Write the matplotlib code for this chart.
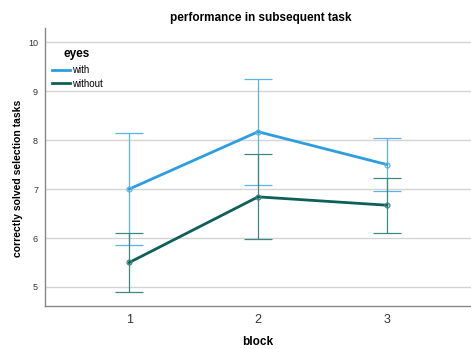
import matplotlib
matplotlib.use("Agg")
import matplotlib.pyplot as plt
from matplotlib.lines import Line2D

plt.rcParams['font.family'] = ['Liberation Sans', 'DejaVu Sans']

blocks = [1, 2, 3]
with_mean = [7.0, 8.17, 7.5]
with_err = [1.15, 1.08, 0.55]
without_mean = [5.5, 6.84, 6.67]
without_err = [0.61, 0.87, 0.56]

series = [
    ("with", with_mean, with_err, "#2b9ee0", "#5cb3e6"),
    ("without", without_mean, without_err, "#0d5f59", "#3f8882"),
]

fig = plt.figure(figsize=(4.71, 3.49), dpi=100)
ax = fig.add_axes([0.0955, 0.123, 0.9035, 0.797])

for y in range(5, 11):
    ax.axhline(y, color="#d4d4d4", lw=1.0, zorder=0)

for name, mean, err, col, ecol in series:
    ax.errorbar(blocks, mean, yerr=err, fmt="none", ecolor=ecol,
                elinewidth=0.9, capsize=10, capthick=0.9, zorder=2)
    ax.plot(blocks, mean, color=col, lw=2.0, marker="o", markersize=3.5,
            markerfacecolor="none", markeredgecolor=ecol, markeredgewidth=0.9,
            zorder=3)

ax.set_xlim(0.345, 3.65)
ax.set_ylim(4.61, 10.29)
ax.set_xticks(blocks)
ax.set_yticks(range(5, 11))
ax.tick_params(axis="x", length=0, labelsize=9, colors="#333333", pad=6)
ax.tick_params(axis="y", length=0, labelsize=6.5, colors="#333333", pad=5)

for s in ["top", "right"]:
    ax.spines[s].set_visible(False)
for s in ["left", "bottom"]:
    ax.spines[s].set_color("#888888")
    ax.spines[s].set_linewidth(1.0)

ax.set_xlabel("block", fontsize=8.5, fontweight="bold", va="center")
ax.xaxis.set_label_coords(0.5, -0.13)
ax.set_ylabel("correctly solved selection tasks", fontsize=7.5, fontweight="bold")
ax.yaxis.set_label_coords(-0.052, 0.46)
fig.text(0.553, 0.948, "performance in subsequent task", ha="center",
         va="center", fontsize=8.5, fontweight="bold")

# legend title placed by hand, entries below it
fig.text(64 / 471, 1 - 54 / 349, "eyes", ha="left", va="center",
         fontsize=8.5, fontweight="bold")
handles = [Line2D([0], [0], color=c, lw=2.0) for _, _, _, c, _ in series]
ax.legend(handles, [s[0] for s in series], loc="upper left",
          bbox_to_anchor=(7 / 425.5, 1 - 37 / 278), frameon=False, fontsize=7,
          handlelength=1.9, handletextpad=0.2, labelspacing=0.4,
          borderaxespad=0.0, borderpad=0.0)

fig.savefig("out.png", dpi=100)
